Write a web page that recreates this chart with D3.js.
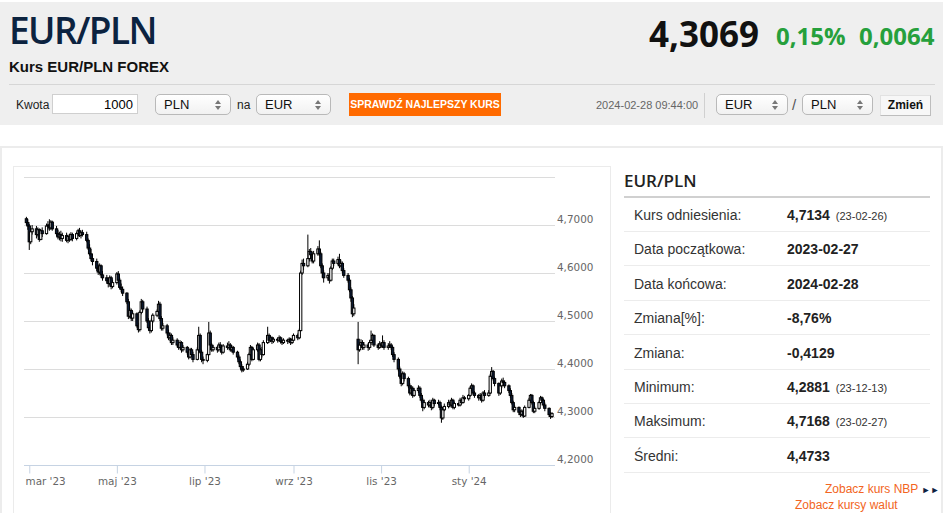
<!DOCTYPE html>
<html>
<head>
<meta charset="utf-8">
<script src="https://cdn.jsdelivr.net/npm/d3@7/dist/d3.min.js"></script>
<style>
  body { margin: 0; width: 948px; height: 513px; overflow: hidden; background: #fff;
         font-family: "Liberation Sans", Arial, sans-serif; position: relative; }
  .abs { position: absolute; white-space: nowrap; }
  #head { left: 0; top: 2px; width: 943px; height: 123px; background: #efefef; }
  #title { left: 9px; top: 4px; font: 600 37px "Open Sans", sans-serif; color: #0c2340; letter-spacing: -1.6px; }
  #subtitle { left: 9px; top: 58px; font: bold 15px "Liberation Sans", Arial; color: #111; }
  #sep { left: 9px; top: 84px; width: 926px; height: 1px; background: #d6d6d6; }
  #price { right: 189px; top: 10px; font: bold 35px "Open Sans", sans-serif; color: #111; }
  .chg { top: 19px; font: bold 24px "Open Sans", sans-serif; color: #26a03c; }
  .lbl { font-size: 12px; color: #222; }
  .inp { background: #fff; border: 1px solid #cfcfcf; height: 20px; box-sizing: border-box;
         font-size: 13px; text-align: right; padding: 2px 4px 0 0; }
  .sel { height: 21px; box-sizing: border-box; border: 1px solid #b9b9b9; border-radius: 5px;
         background: linear-gradient(#ffffff, #f1f1f1); font-size: 13px; padding: 2px 0 0 8px; color: #111; }
  .sel::after { content: ""; position: absolute; right: 9px; top: 5px; border: 3px solid transparent;
         border-bottom: 4px solid #777; border-top: 0; }
  .sel::before { content: ""; position: absolute; right: 9px; top: 11px; border: 3px solid transparent;
         border-top: 4px solid #777; border-bottom: 0; }
  #btn { left: 349px; top: 93px; width: 152px; height: 23px; background: #ff6a00; color: #fff;
         font: bold 10.5px "Liberation Sans", Arial; text-align: center; line-height: 23px; }
  #stamp { left: 596px; top: 99px; font-size: 11px; color: #666; }
  #vsep { left: 704px; top: 93px; width: 1px; height: 25px; background: #d0d0d0; }
  #zmien { left: 880px; top: 95px; width: 51px; height: 21px; box-sizing: border-box; background: #f7f7f7;
           border: 1px solid #e2e2e2; border-right-color: #bdbdbd; border-bottom-color: #bdbdbd;
           font: bold 12px "Liberation Sans", Arial; text-align: center; line-height: 19px; color: #111; }
  #panel { left: 0; top: 146px; width: 939px; height: 400px; border: 2px solid #ececec; border-bottom: 0; }
  #chartbox { left: 13px; top: 166px; width: 596px; height: 400px; border: 1px solid #ebebeb; }
  #side-title { left: 624px; top: 169px; font: 600 17px "Open Sans", sans-serif; color: #222; }
  #side-line { left: 624px; top: 196px; width: 306px; height: 2px; background: #d0d0d0; }
  .row { left: 624px; width: 306px; height: 34px; border-bottom: 1px solid #ececec; box-sizing: border-box;
         font-size: 14px; color: #333; }
  .row .k { position: absolute; left: 10px; top: 9px; }
  .row .v { position: absolute; left: 163px; top: 9px; font-weight: bold; color: #222; }
  .row .d { font-weight: normal; font-size: 11px; margin-left: 6px; color: #333; }
  .more { font-size: 12px; color: #f26522; }
  svg { position: absolute; left: 0; top: 0; }
</style>
</head>
<body>
<div id="head" class="abs"></div>
<div id="title" class="abs">EUR/PLN</div>
<div id="subtitle" class="abs">Kurs EUR/PLN FOREX</div>
<div id="sep" class="abs"></div>
<div id="price" class="abs">4,3069</div>
<div class="abs chg" style="left:776px">0,15%</div>
<div class="abs chg" style="left:859px">0,0064</div>

<div class="abs lbl" style="left:16px;top:98px">Kwota</div>
<div class="abs inp" style="left:52px;top:94px;width:86px">1000</div>
<div class="abs sel" style="left:155px;top:94px;width:76px">PLN</div>
<div class="abs lbl" style="left:237px;top:98px">na</div>
<div class="abs sel" style="left:256px;top:94px;width:75px">EUR</div>
<div id="btn" class="abs">SPRAWDŹ NAJLEPSZY KURS</div>
<div id="stamp" class="abs">2024-02-28 09:44:00</div>
<div id="vsep" class="abs"></div>
<div class="abs sel" style="left:716px;top:94px;width:72px">EUR</div>
<div class="abs lbl" style="left:792px;top:96px;font-size:15px;color:#555">/</div>
<div class="abs sel" style="left:802px;top:94px;width:71px">PLN</div>
<div id="zmien" class="abs">Zmień</div>

<div id="panel" class="abs"></div>
<div id="chartbox" class="abs"></div>
<div id="side-title" class="abs">EUR/PLN</div>
<div id="side-line" class="abs"></div>
<div id="side"></div>
<div class="abs more" style="left:825px;top:482px">Zobacz kurs NBP <span style="color:#0c2340;font-size:9px">&#9658;&#9658;</span></div>
<div class="abs more" style="left:795px;top:498px">Zobacz kursy walut</div>

<script>
// table on the right
const statLabels = ["Kurs odniesienia:", "Data początkowa:", "Data końcowa:", "Zmiana[%]:",
                    "Zmiana:", "Minimum:", "Maksimum:", "Średni:"];
const statValues = ["4,7134", "2023-02-27", "2024-02-28", "-8,76%", "-0,4129", "4,2881", "4,7168", "4,4733"];
const statDates  = ["(23-02-26)", "", "", "", "", "(23-12-13)", "(23-02-27)", ""];

// chart data: one value per trading day, 2023-02-27 .. 2024-02-28 (5 values = one week)
const opens = [
  4.713,4.705,4.698,4.665,4.686, 4.692,4.680,4.690,4.670,4.688, 4.682,4.698,4.700,4.694,4.706,
  4.692,4.682,4.675,4.680,4.672, 4.678,4.668,4.676,4.670,4.680, 4.672,4.682,4.688,4.678,4.684,
  4.680,4.668,4.652,4.640,4.630, 4.624,4.610,4.602,4.615,4.596, 4.590,4.584,4.578,4.590,4.572,
  4.580,4.598,4.585,4.570,4.566, 4.558,4.540,4.510,4.522,4.506, 4.515,4.490,4.482,4.518,4.540,
  4.525,4.500,4.486,4.480,4.500, 4.512,4.520,4.535,4.505,4.485, 4.490,4.475,4.465,4.470,4.455,
  4.460,4.450,4.445,4.455,4.440, 4.445,4.435,4.425,4.440,4.430, 4.420,4.440,4.470,4.435,4.420,
  4.418,4.430,4.475,4.450,4.440, 4.445,4.440,4.450,4.445,4.435, 4.448,4.445,4.450,4.440,4.445,
  4.435,4.425,4.415,4.405,4.398, 4.400,4.410,4.430,4.445,4.420, 4.440,4.450,4.420,4.440,4.430,
  4.455,4.470,4.460,4.465,4.458, 4.462,4.460,4.465,4.458,4.455, 4.460,4.458,4.462,4.455,4.460,
  4.470,4.465,4.480,4.600,4.620, 4.615,4.630,4.645,4.638,4.625, 4.640,4.650,4.640,4.615,4.600,
  4.590,4.595,4.585,4.610,4.625, 4.620,4.628,4.615,4.620,4.605, 4.595,4.585,4.565,4.548,4.515,
  4.462,4.440,4.450,4.455,4.445, 4.450,4.445,4.455,4.460,4.470, 4.450,4.445,4.452,4.448,4.455,
  4.445,4.448,4.450,4.445,4.430, 4.420,4.400,4.385,4.370,4.390, 4.380,4.365,4.350,4.360,4.345,
  4.355,4.360,4.345,4.335,4.320, 4.330,4.325,4.330,4.320,4.335, 4.328,4.330,4.320,4.298,4.315,
  4.322,4.330,4.325,4.335,4.320, 4.328,4.325,4.335,4.330,4.340, 4.338,4.345,4.360,4.365,4.350,
  4.345,4.340,4.345,4.335,4.350, 4.345,4.350,4.385,4.395,4.380, 4.370,4.350,4.365,4.375,4.372,
  4.365,4.355,4.345,4.330,4.315, 4.320,4.310,4.305,4.312,4.302, 4.320,4.335,4.345,4.330,4.312,
  4.318,4.330,4.340,4.335,4.325, 4.318,4.305,4.301
];
const highs = [
  4.717,4.712,4.702,4.690,4.700, 4.698,4.695,4.693,4.692,4.695, 4.703,4.708,4.712,4.710,4.709,
  4.698,4.690,4.686,4.688,4.684, 4.684,4.680,4.682,4.685,4.684, 4.686,4.692,4.694,4.688,4.690,
  4.686,4.672,4.660,4.650,4.640, 4.630,4.618,4.620,4.618,4.604, 4.596,4.590,4.595,4.594,4.586,
  4.602,4.604,4.590,4.578,4.572, 4.560,4.546,4.528,4.526,4.520, 4.518,4.496,4.522,4.546,4.544,
  4.530,4.506,4.492,4.505,4.516, 4.524,4.542,4.540,4.510,4.496, 4.494,4.482,4.476,4.474,4.466,
  4.464,4.456,4.460,4.458,4.450, 4.448,4.440,4.444,4.444,4.436, 4.445,4.488,4.474,4.440,4.426,
  4.434,4.498,4.480,4.454,4.450, 4.448,4.455,4.456,4.450,4.452, 4.455,4.458,4.454,4.450,4.448,
  4.438,4.430,4.420,4.410,4.406, 4.415,4.434,4.450,4.448,4.444, 4.455,4.454,4.444,4.446,4.460,
  4.488,4.474,4.470,4.468,4.466, 4.466,4.470,4.468,4.462,4.464, 4.463,4.466,4.465,4.464,4.474,
  4.474,4.484,4.605,4.628,4.630, 4.680,4.650,4.652,4.644,4.646, 4.656,4.668,4.644,4.620,4.606,
  4.600,4.600,4.614,4.630,4.630, 4.634,4.640,4.626,4.624,4.610, 4.600,4.590,4.570,4.552,4.535,
  4.498,4.455,4.462,4.460,4.456, 4.454,4.460,4.480,4.474,4.472, 4.454,4.458,4.456,4.470,4.460,
  4.454,4.458,4.454,4.448,4.435, 4.424,4.405,4.392,4.395,4.394, 4.384,4.370,4.366,4.364,4.360,
  4.366,4.364,4.350,4.340,4.336, 4.334,4.336,4.334,4.340,4.338, 4.336,4.334,4.324,4.320,4.328,
  4.336,4.334,4.340,4.338,4.332, 4.330,4.340,4.338,4.346,4.344, 4.348,4.364,4.370,4.368,4.354,
  4.348,4.350,4.348,4.354,4.356, 4.356,4.390,4.404,4.398,4.384, 4.372,4.368,4.380,4.382,4.376,
  4.368,4.360,4.350,4.334,4.324, 4.322,4.314,4.316,4.315,4.324, 4.340,4.348,4.348,4.334,4.322,
  4.334,4.344,4.343,4.338,4.330, 4.320,4.310,4.310
];
const lows = [
  4.700,4.690,4.648,4.660,4.680, 4.672,4.676,4.665,4.668,4.675, 4.680,4.690,4.688,4.690,4.688,
  4.676,4.670,4.668,4.666,4.665, 4.664,4.662,4.665,4.667,4.666, 4.668,4.676,4.675,4.672,4.676,
  4.664,4.648,4.636,4.625,4.616, 4.604,4.596,4.598,4.590,4.584, 4.578,4.570,4.574,4.566,4.568,
  4.576,4.580,4.566,4.560,4.552, 4.535,4.504,4.506,4.500,4.500, 4.486,4.476,4.478,4.514,4.520,
  4.496,4.480,4.474,4.476,4.496, 4.508,4.516,4.500,4.480,4.480, 4.470,4.460,4.458,4.450,4.450,
  4.445,4.440,4.442,4.434,4.436, 4.430,4.420,4.422,4.426,4.414, 4.418,4.436,4.432,4.414,4.410,
  4.414,4.428,4.446,4.436,4.436, 4.434,4.436,4.440,4.430,4.432, 4.440,4.442,4.436,4.436,4.430,
  4.420,4.410,4.400,4.393,4.394, 4.398,4.406,4.426,4.416,4.418, 4.436,4.416,4.416,4.424,4.428,
  4.452,4.455,4.456,4.452,4.454, 4.455,4.456,4.453,4.450,4.452, 4.452,4.454,4.450,4.452,4.458,
  4.460,4.462,4.478,4.596,4.606, 4.612,4.624,4.630,4.620,4.620, 4.636,4.636,4.610,4.590,4.580,
  4.584,4.578,4.582,4.606,4.614, 4.616,4.610,4.612,4.600,4.590, 4.580,4.560,4.540,4.508,4.510,
  4.410,4.436,4.444,4.440,4.440, 4.438,4.440,4.450,4.454,4.446, 4.440,4.442,4.444,4.444,4.440,
  4.440,4.444,4.440,4.425,4.414, 4.395,4.380,4.364,4.366,4.374, 4.360,4.345,4.346,4.340,4.342,
  4.350,4.340,4.330,4.312,4.316, 4.320,4.320,4.314,4.316,4.322, 4.324,4.314,4.288,4.294,4.312,
  4.318,4.320,4.322,4.316,4.316, 4.322,4.322,4.326,4.328,4.332, 4.334,4.342,4.354,4.346,4.340,
  4.334,4.336,4.330,4.332,4.340, 4.342,4.348,4.380,4.376,4.364, 4.344,4.346,4.360,4.366,4.360,
  4.350,4.340,4.326,4.310,4.310, 4.304,4.300,4.302,4.298,4.300, 4.318,4.330,4.326,4.308,4.308,
  4.315,4.326,4.330,4.320,4.312, 4.300,4.296,4.298
];
const closes = [
  4.705,4.698,4.665,4.686,4.692, 4.680,4.690,4.670,4.688,4.682, 4.698,4.700,4.694,4.706,4.692,
  4.682,4.675,4.680,4.672,4.678, 4.668,4.676,4.670,4.680,4.672, 4.682,4.688,4.678,4.684,4.680,
  4.668,4.652,4.640,4.630,4.624, 4.610,4.602,4.615,4.596,4.590, 4.584,4.578,4.590,4.572,4.580,
  4.598,4.585,4.570,4.566,4.558, 4.540,4.510,4.522,4.506,4.515, 4.490,4.482,4.518,4.540,4.525,
  4.500,4.486,4.480,4.500,4.512, 4.520,4.535,4.505,4.485,4.490, 4.475,4.465,4.470,4.455,4.460,
  4.450,4.445,4.455,4.440,4.445, 4.435,4.425,4.440,4.430,4.420, 4.440,4.470,4.435,4.420,4.418,
  4.430,4.475,4.450,4.440,4.445, 4.440,4.450,4.445,4.435,4.448, 4.445,4.450,4.440,4.445,4.435,
  4.425,4.415,4.405,4.398,4.400, 4.410,4.430,4.445,4.420,4.440, 4.450,4.420,4.440,4.430,4.455,
  4.470,4.460,4.465,4.458,4.462, 4.460,4.465,4.458,4.455,4.460, 4.458,4.462,4.455,4.460,4.470,
  4.465,4.480,4.600,4.620,4.615, 4.630,4.645,4.638,4.625,4.640, 4.650,4.640,4.615,4.600,4.590,
  4.595,4.585,4.610,4.625,4.620, 4.628,4.615,4.620,4.605,4.595, 4.585,4.565,4.548,4.515,4.527,
  4.440,4.450,4.455,4.445,4.450, 4.445,4.455,4.460,4.470,4.450, 4.445,4.452,4.448,4.455,4.445,
  4.448,4.450,4.445,4.430,4.420, 4.400,4.385,4.370,4.390,4.380, 4.365,4.350,4.360,4.345,4.355,
  4.360,4.345,4.335,4.320,4.330, 4.325,4.330,4.320,4.335,4.328, 4.330,4.320,4.298,4.315,4.322,
  4.330,4.325,4.335,4.320,4.328, 4.325,4.335,4.330,4.340,4.338, 4.345,4.360,4.365,4.350,4.345,
  4.340,4.345,4.335,4.350,4.345, 4.350,4.385,4.395,4.380,4.370, 4.350,4.365,4.375,4.372,4.365,
  4.355,4.345,4.330,4.315,4.320, 4.310,4.305,4.312,4.302,4.320, 4.335,4.345,4.330,4.312,4.318,
  4.330,4.340,4.335,4.325,4.318, 4.305,4.301,4.307
];
const yTicks = [4.2, 4.3, 4.4, 4.5, 4.6, 4.7];
const gridTicks = [4.3, 4.4, 4.5, 4.6, 4.7, 4.8];
const monthNames = ["sty", "lut", "mar", "kwi", "maj", "cze", "lip", "sie", "wrz", "paź", "lis", "gru"];
const xTicks = [new Date(2023, 2, 1), new Date(2023, 4, 1), new Date(2023, 6, 1),
                new Date(2023, 8, 1), new Date(2023, 10, 1), new Date(2024, 0, 1)];

// side table
const side = d3.select("#side");
statLabels.forEach((lab, i) => {
  const row = side.append("div").attr("class", "abs row").style("top", (198 + i * 34.4) + "px");
  row.append("span").attr("class", "k").text(lab);
  const v = row.append("span").attr("class", "v").text(statValues[i]);
  if (statDates[i]) v.append("span").attr("class", "d").text(statDates[i]);
});

// trading days (Mon-Fri)
const start = new Date(2023, 1, 27), end = new Date(2024, 1, 28);
const days = d3.timeDay.range(start, d3.timeDay.offset(end, 1)).filter(d => d.getDay() > 0 && d.getDay() < 6);
const n = Math.min(days.length, closes.length);
const candles = d3.range(n).map(i => ({ date: days[i], o: opens[i], h: highs[i], l: lows[i], c: closes[i] }));

const svg = d3.select("body").append("svg").attr("width", 948).attr("height", 513);
const x = d3.scaleTime().domain([start, end]).range([26.4, 552]);
const y = d3.scaleLinear().domain([4.2, 4.8]).range([465, 177]);
const fmt = v => d3.format(".4f")(v).replace(".", ",");

svg.append("g").selectAll("line").data(gridTicks).join("line")
  .attr("x1", 24).attr("x2", 555)
  .attr("y1", d => Math.round(y(d)) + 0.5).attr("y2", d => Math.round(y(d)) + 0.5)
  .attr("stroke", "#dcdcdc");

svg.append("g").selectAll("text").data(yTicks).join("text")
  .attr("x", 557).attr("y", d => y(d) - 2)
  .attr("font-family", "DejaVu Sans").attr("font-size", 10.4).attr("fill", "#666")
  .text(fmt);

const xAxis = svg.append("g").attr("transform", "translate(0,465.5)")
  .call(d3.axisBottom(x).tickValues(xTicks).tickSize(8)
    .tickFormat(d => monthNames[d.getMonth()] + " '" + String(d.getFullYear()).slice(2)));
xAxis.select(".domain").attr("d", "M24,0H555").attr("stroke", "#c6d3e3");
xAxis.selectAll(".tick line").attr("stroke", "#c6d3e3");
xAxis.selectAll(".tick text").attr("font-family", "DejaVu Sans").attr("font-size", 10.4)
  .attr("fill", "#666").attr("dy", "0.85em")
  .filter((d, i) => i === 0).attr("text-anchor", "start").attr("x", 25 - x(xTicks[0]));

const bw = 2.3;
const g = svg.append("g");
g.selectAll("line").data(candles).join("line")
  .attr("x1", d => x(d.date)).attr("x2", d => x(d.date))
  .attr("y1", d => y(d.h)).attr("y2", d => y(d.l))
  .attr("stroke", "#000").attr("stroke-width", 1);
g.selectAll("rect").data(candles).join("rect")
  .attr("x", d => x(d.date) - bw / 2).attr("width", bw)
  .attr("y", d => y(Math.max(d.o, d.c)))
  .attr("height", d => Math.max(0.8, Math.abs(y(d.o) - y(d.c))))
  .attr("fill", d => d.c >= d.o ? "#fff" : "#0c1b35")
  .attr("stroke", "#000").attr("stroke-width", 1);
</script>
</body>
</html>
